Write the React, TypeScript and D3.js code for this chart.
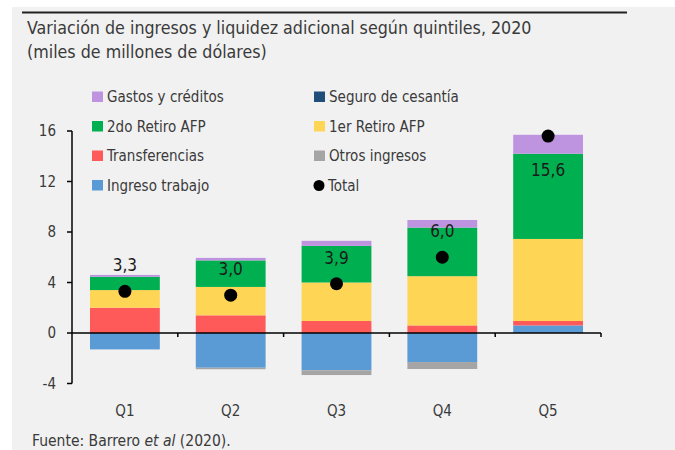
import React from "react";
import * as d3 from "d3";

const categories = ["Q1", "Q2", "Q3", "Q4", "Q5"];
const ingresoTrabajo = [-1.3, -2.75, -2.95, -2.3, 0.6];
const otrosIngresos = [0, -0.12, -0.38, -0.55, 0];
const transferencias = [2.0, 1.4, 0.95, 0.6, 0.35];
const seguroCesantia = [0, 0, 0, 0, 0];
const primerRetiro = [1.4, 2.25, 3.05, 3.9, 6.5];
const segundoRetiro = [1.05, 2.1, 2.9, 3.85, 6.75];
const gastosCreditos = [0.15, 0.2, 0.4, 0.6, 1.5];
const totals = [3.3, 3.0, 3.9, 6.0, 15.6];
const labelAbove = [true, true, true, true, false];
const yTicks = [-4, 0, 4, 8, 12, 16];

const series = [
  { key: "ingreso", name: "Ingreso trabajo", values: ingresoTrabajo, color: "#5b9bd5" },
  { key: "otros", name: "Otros ingresos", values: otrosIngresos, color: "#a5a5a5" },
  { key: "transf", name: "Transferencias", values: transferencias, color: "#ff5a5a" },
  { key: "seguro", name: "Seguro de cesantía", values: seguroCesantia, color: "#1f4e79" },
  { key: "primer", name: "1er Retiro AFP", values: primerRetiro, color: "#ffd556" },
  { key: "segundo", name: "2do Retiro AFP", values: segundoRetiro, color: "#00b050" },
  { key: "gastos", name: "Gastos y créditos", values: gastosCreditos, color: "#be94e0" },
];

const legendCol1 = ["gastos", "segundo", "transf", "ingreso"];
const legendCol2 = ["seguro", "primer", "otros", "total"];

const FONT = "'Liberation Sans Narrow', 'DejaVu Sans Condensed', 'Liberation Sans', sans-serif";
const TXT = "#3a3a3a";

export default function App() {
  const W = 675, H = 450;
  const x = d3.scaleBand<string>().domain(categories).range([72, 601]).padding(0);
  const barW = x.bandwidth() * 0.66;
  const y = d3.scaleLinear().domain([-4, 16]).range([383.5, 131]);

  const table = categories.map((c, i) => {
    const row: any = { cat: c };
    series.forEach((s) => (row[s.key] = s.values[i]));
    return row;
  });
  const stack = d3
    .stack<any>()
    .keys(series.map((s) => s.key))
    .offset(d3.stackOffsetDiverging);
  const layers = stack(table);

  const fmt = (v: number) => v.toFixed(1).replace(".", ",");
  const byKey = (k: string) => series.find((s) => s.key === k);

  const legendItem = (k: string, lx: number, ly: number) => {
    if (k === "total") {
      return (
        <g key={k}>
          <circle cx={lx + 5} cy={ly - 5} r={5.5} fill="#000" />
          <text x={lx + 14} y={ly} fontSize={15} fill={TXT} fontFamily={FONT}>Total</text>
        </g>
      );
    }
    const s = byKey(k)!;
    return (
      <g key={k}>
        <rect x={lx} y={ly - 10.5} width={11} height={10.5} fill={s.color} />
        <text x={lx + 15} y={ly} fontSize={15} fill={TXT} fontFamily={FONT}>{s.name}</text>
      </g>
    );
  };

  const bounds = categories.map((c) => x(c)! + x.bandwidth());

  return (
    <svg width={W} height={H} style={{ position: "absolute", left: 0, top: 0 }}>
      <rect x={0} y={0} width={W} height={H} fill="#fff" />
      <rect x={12} y={7} width={W - 12} height={H - 7} fill="#f1f1f1" />
      <line x1={22} x2={627} y1={12.5} y2={12.5} stroke="#222" strokeWidth={2} />
      <text x={27} y={34} fontSize={17.7} fill={TXT} fontFamily={FONT}>
        Variación de ingresos y liquidez adicional según quintiles, 2020
      </text>
      <text x={27} y={58} fontSize={17.7} fill={TXT} fontFamily={FONT}>
        (miles de millones de dólares)
      </text>

      {/* bars */}
      {layers.map((layer, li) =>
        layer.map((d, i) => {
          const y0 = y(d[0]);
          const y1 = y(d[1]);
          const h = Math.abs(y0 - y1);
          if (h < 0.01) return null;
          return (
            <rect
              key={`${li}-${i}`}
              x={x(categories[i])! + (x.bandwidth() - barW) / 2}
              y={Math.min(y0, y1)}
              width={barW}
              height={h}
              fill={series[li].color}
            />
          );
        })
      )}

      {/* axes */}
      <line x1={72} x2={72} y1={y(-4)} y2={y(16)} stroke="#000" strokeWidth={1.5} />
      {yTicks.map((t) => (
        <g key={t}>
          <line x1={67} x2={72} y1={y(t)} y2={y(t)} stroke="#000" strokeWidth={1.5} />
          <text x={56} y={y(t) + 5} fontSize={15} textAnchor="end" fill={TXT} fontFamily={FONT}>
            {t}
          </text>
        </g>
      ))}
      <line x1={72} x2={601} y1={y(0)} y2={y(0)} stroke="#000" strokeWidth={1.5} />
      {bounds.map((b, i) => (
        <line key={i} x1={b} x2={b} y1={y(0)} y2={y(0) + 4} stroke="#000" strokeWidth={1.5} />
      ))}
      {categories.map((c) => (
        <text key={c} x={x(c)! + x.bandwidth() / 2} y={416} fontSize={15} textAnchor="middle" fill={TXT} fontFamily={FONT}>
          {c}
        </text>
      ))}

      {/* totals */}
      {totals.map((t, i) => {
        const cx = x(categories[i])! + x.bandwidth() / 2;
        const cy = y(t);
        return (
          <g key={i}>
            <circle cx={cx} cy={cy} r={6.5} fill="#000" />
            <text
              x={cx}
              y={labelAbove[i] ? cy - 20 : cy + 40}
              fontSize={17}
              textAnchor="middle"
              fill="#1a1a1a"
              fontFamily={FONT}
            >
              {fmt(t)}
            </text>
          </g>
        );
      })}

      {/* legend */}
      {legendCol1.map((k, i) => legendItem(k, 92, 102 + i * 29.5))}
      {legendCol2.map((k, i) => legendItem(k, 314, 102 + i * 29.5))}

      {/* footer */}
      <text x={32} y={446} fontSize={15.5} fill={TXT} fontFamily={FONT}>
        Fuente: Barrero <tspan fontStyle="italic">et al</tspan> (2020).
      </text>
    </svg>
  );
}
